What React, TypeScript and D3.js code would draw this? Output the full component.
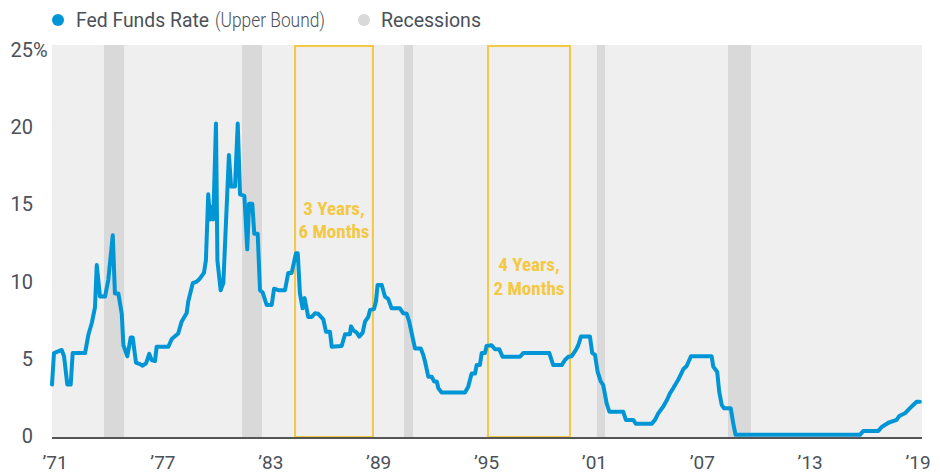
import * as d3 from "d3";

// Fed funds rate (upper bound), [decimal year, percent]
const fedFundsUpper: [number, number][] = [
  [1970.83, 3.4], [1970.94, 5.4], [1971.37, 5.6], [1971.5, 5.2], [1971.68, 3.4],
  [1971.87, 3.4], [1971.98, 5.4], [1972.67, 5.4], [1972.85, 6.55], [1973.04, 7.3],
  [1973.22, 8.3], [1973.32, 11.0], [1973.5, 9.0], [1973.78, 9.0], [1973.96, 10.05],
  [1974.21, 12.9], [1974.33, 9.2], [1974.52, 9.2], [1974.71, 7.9], [1974.8, 5.9],
  [1975.02, 5.2], [1975.21, 6.4], [1975.32, 6.4], [1975.5, 4.8], [1975.72, 4.7],
  [1975.87, 4.6], [1976.06, 4.75], [1976.24, 5.35], [1976.37, 4.96], [1976.56, 4.9],
  [1976.65, 5.8], [1977.3, 5.8], [1977.49, 6.3], [1977.85, 6.65], [1978.04, 7.4],
  [1978.32, 7.95], [1978.41, 8.7], [1978.66, 9.85], [1978.88, 9.95], [1979.06, 10.15],
  [1979.28, 10.5], [1979.39, 11.3], [1979.52, 15.5], [1979.62, 13.9], [1979.71, 14.7],
  [1979.8, 13.9], [1979.95, 20.0], [1980.03, 11.3], [1980.21, 9.4], [1980.36, 9.85],
  [1980.67, 18.0], [1980.79, 16.0], [1981.01, 16.0], [1981.16, 20.0], [1981.29, 15.5],
  [1981.53, 15.4], [1981.69, 12.0], [1981.79, 14.9], [1981.97, 14.9], [1982.08, 13.0],
  [1982.27, 13.0], [1982.4, 9.4], [1982.55, 9.25], [1982.77, 8.46], [1983.05, 8.46],
  [1983.18, 9.5], [1983.42, 9.4], [1983.79, 9.4], [1983.97, 10.5], [1984.16, 10.5],
  [1984.4, 11.75], [1984.5, 11.75], [1984.62, 9.2], [1984.77, 8.25], [1984.88, 8.9],
  [1985.08, 7.7], [1985.27, 7.7], [1985.46, 7.93], [1985.64, 7.9], [1985.92, 7.55],
  [1986.07, 6.76], [1986.29, 6.76], [1986.39, 5.8], [1986.94, 5.85], [1987.13, 6.6],
  [1987.4, 6.6], [1987.46, 7.1], [1987.59, 6.85], [1987.78, 6.7], [1987.92, 6.45],
  [1988.11, 6.7], [1988.24, 7.4], [1988.42, 7.7], [1988.52, 8.15], [1988.74, 8.2],
  [1988.85, 8.7], [1988.94, 9.73], [1989.17, 9.73], [1989.35, 9.0], [1989.53, 8.85],
  [1989.72, 8.25], [1990.18, 8.25], [1990.37, 7.93], [1990.56, 7.9], [1990.7, 7.4],
  [1990.84, 6.65], [1991.02, 5.7], [1991.34, 5.7], [1991.48, 5.28], [1991.58, 4.85],
  [1991.76, 3.9], [1991.95, 3.9], [1992.08, 3.6], [1992.23, 3.6], [1992.32, 3.16],
  [1992.5, 2.9], [1993.8, 2.9], [1993.98, 3.26], [1994.17, 4.1], [1994.36, 4.1],
  [1994.45, 4.64], [1994.63, 4.64], [1994.73, 5.4], [1994.91, 5.4], [1995.0, 5.85],
  [1995.28, 5.9], [1995.47, 5.64], [1995.71, 5.64], [1995.89, 5.17], [1996.86, 5.17],
  [1997.04, 5.4], [1998.49, 5.4], [1998.71, 4.64], [1999.18, 4.64], [1999.36, 4.96],
  [1999.55, 5.17], [1999.73, 5.2], [1999.97, 5.6], [2000.1, 5.9], [2000.25, 6.45],
  [2000.75, 6.45], [2000.88, 5.4], [2001.03, 5.3], [2001.18, 4.2], [2001.35, 3.6],
  [2001.49, 3.37], [2001.68, 2.2], [2001.83, 1.67], [2002.6, 1.67], [2002.75, 1.15],
  [2003.16, 1.15], [2003.31, 0.9], [2004.18, 0.9], [2004.37, 1.15], [2004.55, 1.57],
  [2004.83, 2.0], [2005.05, 2.45], [2005.2, 2.84], [2005.38, 3.16], [2005.66, 3.7],
  [2005.94, 4.37], [2006.13, 4.58], [2006.37, 5.2], [2007.52, 5.2], [2007.61, 4.54],
  [2007.83, 4.2], [2007.94, 2.95], [2008.08, 2.1], [2008.2, 1.9], [2008.58, 1.9],
  [2008.72, 0.94], [2008.85, 0.2], [2015.77, 0.2], [2015.95, 0.45], [2016.79, 0.45],
  [2016.98, 0.7], [2017.35, 0.97], [2017.81, 1.15], [2017.96, 1.4], [2018.27, 1.57],
  [2018.55, 1.9], [2018.73, 2.1], [2018.92, 2.3], [2019.1, 2.3],
];

const recessionStarts = [1973.72, 1981.4, 1990.41, 2001.14, 2008.43];
const recessionEnds = [1974.84, 1982.51, 1990.91, 2001.59, 2009.71];

const pauseStarts = [1984.35, 1995.08];
const pauseEnds = [1988.68, 1999.64];
const pauseLabels = [["3 Years,", "6 Months"], ["4 Years,", "2 Months"]];
const pauseLabelLevels = [14.2, 10.6];

const xTickYears = [1971, 1977, 1983, 1989, 1995, 2001, 2007, 2013, 2019];
const yTicks = [0, 5, 10, 15, 20, 25];

const BLUE = "#0096d6";
const YELLOW = "#f4c843";
const TEXT = "#4b5159";
const FONT = "Roboto, 'Noto Sans', sans-serif";
const NARROW = "'Liberation Sans Narrow', 'Roboto Condensed', Roboto, sans-serif";

export default function App() {
  const left = 52,
    right = 922,
    top = 45,
    bottom = 438;

  const x = d3.scaleLinear().domain([1970.83, 2019.22]).range([left, right]);
  const y = d3.scaleLinear().domain([0, 25]).range([bottom, top]);
  // tick labels sit on their own slightly tighter spacing in the original
  const labelY = d3.scaleLinear().domain([0, 25]).range([443, 57]);

  const line = d3
    .line<[number, number]>()
    .x((d) => x(d[0]))
    .y((d) => y(d[1]));

  return (
    <svg
      width={940}
      height={475}
      style={{ position: "absolute", left: 0, top: 0, background: "#fff" }}
    >
      {/* legend */}
      <g fontFamily={FONT} fontSize={20} fill={TEXT}>
        <circle cx={58} cy={20} r={6} fill={BLUE} />
        <text x={76} y={27} textLength={133} lengthAdjust="spacingAndGlyphs">
          Fed Funds Rate
        </text>
        <text
          x={215}
          y={27}
          fontWeight={300}
          textLength={110}
          lengthAdjust="spacingAndGlyphs"
        >
          (Upper Bound)
        </text>
        <circle cx={364} cy={20} r={6} fill="#d9d9d9" />
        <text x={381} y={27} textLength={100} lengthAdjust="spacingAndGlyphs">
          Recessions
        </text>
      </g>

      {/* plot background */}
      <rect x={left} y={top} width={right - left} height={bottom - top} fill="#efefef" />

      {recessionStarts.map((s, i) => (
        <rect
          key={"r" + i}
          x={x(s)}
          y={top}
          width={x(recessionEnds[i]) - x(s)}
          height={bottom - top}
          fill="#d9d9d9"
        />
      ))}

      {pauseStarts.map((s, i) => (
        <g key={"p" + i}>
          <rect
            x={x(s)}
            y={top + 1}
            width={x(pauseEnds[i]) - x(s)}
            height={bottom - top - 2}
            fill="none"
            stroke={YELLOW}
            strokeWidth={2}
          />
          <text
            x={(x(s) + x(pauseEnds[i])) / 2}
            y={y(pauseLabelLevels[i])}
            textAnchor="middle"
            fontFamily={NARROW}
            fontWeight={700}
            fontSize={19}
            fill={YELLOW}
          >
            <tspan x={(x(s) + x(pauseEnds[i])) / 2}>{pauseLabels[i][0]}</tspan>
            <tspan x={(x(s) + x(pauseEnds[i])) / 2} dy={23.5}>
              {pauseLabels[i][1]}
            </tspan>
          </text>
        </g>
      ))}

      <path
        d={line(fedFundsUpper) ?? ""}
        fill="none"
        stroke={BLUE}
        strokeWidth={4}
        strokeLinejoin="round"
        strokeLinecap="round"
      />

      {/* baseline */}
      <line x1={left} x2={right} y1={bottom} y2={bottom} stroke="#555" strokeWidth={2} />

      {/* y labels */}
      <g fontFamily={FONT} fontSize={20} fill={TEXT}>
        {yTicks.map((t) => (
          <text key={"y" + t} x={33} y={labelY(t)} textAnchor="end">
            {t}
          </text>
        ))}
        <text x={33} y={labelY(25)}>
          %
        </text>
      </g>

      {/* x labels */}
      <g fontFamily={FONT} fontSize={19} fill={TEXT} textAnchor="middle">
        {xTickYears.map((yr) => (
          <text key={"x" + yr} x={x(yr)} y={469}>
            {"\u2019" + String(yr).slice(2)}
          </text>
        ))}
      </g>
    </svg>
  );
}
